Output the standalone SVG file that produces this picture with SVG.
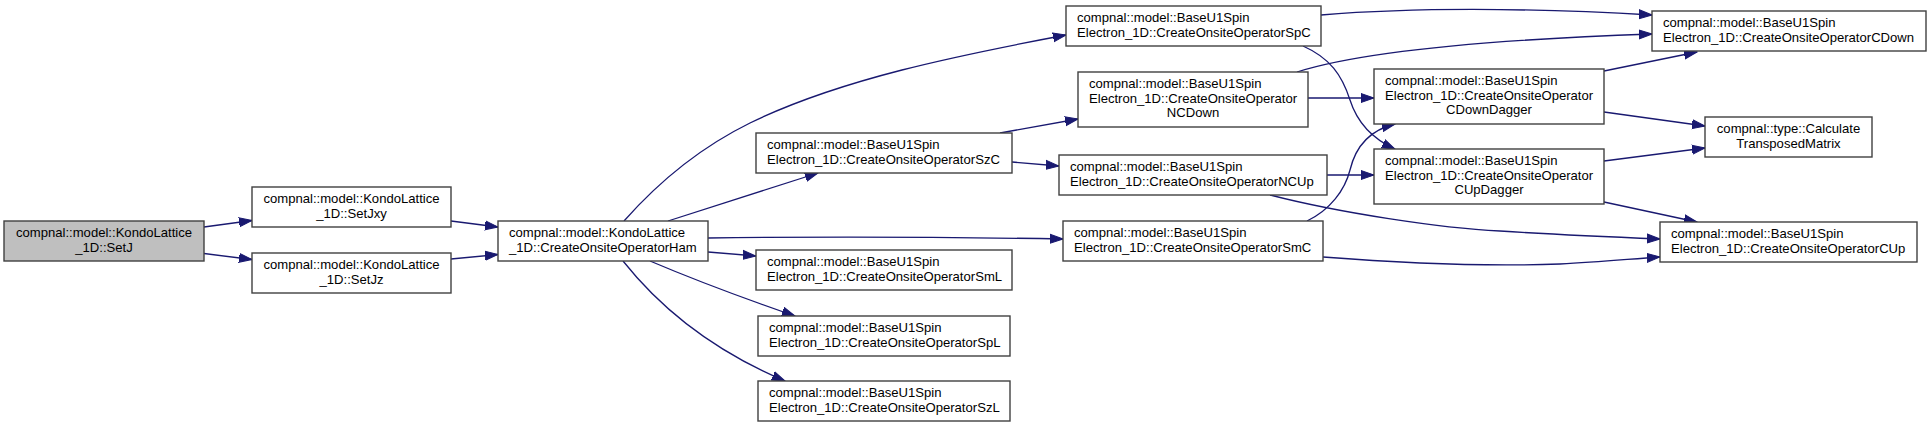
<svg xmlns="http://www.w3.org/2000/svg" width="1931" height="427" viewBox="0 0 1931 427">
<style>
.n rect{fill:#fff;stroke:#404040;stroke-width:1.4}
.n.root rect{fill:#bfbfbf}
.n text{font-family:"Liberation Sans",Arial,sans-serif;font-size:13.1px;fill:#000}
.c{text-anchor:middle}
#edges path{fill:none;stroke:#191970;stroke-width:1.3;marker-end:url(#ah)}
</style>
<defs>
<marker id="ah" markerWidth="14" markerHeight="11" refX="13" refY="5" orient="auto" markerUnits="userSpaceOnUse" viewBox="0 0 14 10">
<path d="M0,0.5 L13,5 L0,9.5 z" fill="#191970" stroke="#191970" stroke-width="1"/>
</marker>
</defs>
<rect width="1931" height="427" fill="#fff"/>
<g id="edges">
<path d="M204,227 L252,220.5"/>
<path d="M204,253.5 L252,259.5"/>
<path d="M451,221 L498,227"/>
<path d="M451,259 L498,254.5"/>
<path d="M624,221 C655,186 695,150 750,123 C840,79 960,55 1066,35"/>
<path d="M668,221 L818,173"/>
<path d="M708,238 C850,236 950,237 1063,239"/>
<path d="M708,252 L756,256"/>
<path d="M650,261 C690,278 740,297 795,316"/>
<path d="M623,261 C650,295 700,345 785,381"/>
<path d="M1000,133 L1078,119"/>
<path d="M1012,162 L1059,166"/>
<path d="M1321,15 C1420,7 1530,8 1652,15"/>
<path d="M1303,46 C1330,58 1342,75 1350,100 C1358,125 1375,140 1395,149"/>
<path d="M1297,72 C1360,52 1480,40 1652,34"/>
<path d="M1308,98 L1374,98"/>
<path d="M1327,175 L1374,175"/>
<path d="M1270,195 C1340,213 1440,228 1500,231 C1560,235 1610,237 1660,239"/>
<path d="M1307,221 C1330,210 1345,190 1350,170 C1356,145 1370,130 1395,124"/>
<path d="M1323,257 C1400,263 1480,267 1560,264 C1600,262 1630,259 1660,257"/>
<path d="M1604,71 L1697,52"/>
<path d="M1604,112 L1705,126"/>
<path d="M1604,161 L1705,148"/>
<path d="M1604,202 L1697,222"/>
</g>
<g id="SetJ" class="n root"><rect x="4" y="221" width="200" height="40"/><text class="c" x="104" y="237">compnal::model::KondoLattice</text><text class="c" x="104" y="251.7">_1D::SetJ</text></g>
<g id="SetJxy" class="n"><rect x="252" y="187" width="199" height="40"/><text class="c" x="351.5" y="203">compnal::model::KondoLattice</text><text class="c" x="351.5" y="217.7">_1D::SetJxy</text></g>
<g id="SetJz" class="n"><rect x="252" y="253" width="199" height="40"/><text class="c" x="351.5" y="269">compnal::model::KondoLattice</text><text class="c" x="351.5" y="283.7">_1D::SetJz</text></g>
<g id="Ham" class="n"><rect x="498" y="221" width="210" height="40"/><text x="509" y="237">compnal::model::KondoLattice</text><text x="509" y="251.7">_1D::CreateOnsiteOperatorHam</text></g>
<g id="SzC" class="n"><rect x="756" y="133" width="256" height="40"/><text x="767" y="149">compnal::model::BaseU1Spin</text><text x="767" y="163.7">Electron_1D::CreateOnsiteOperatorSzC</text></g>
<g id="SmL" class="n"><rect x="756" y="250" width="256" height="40"/><text x="767" y="266">compnal::model::BaseU1Spin</text><text x="767" y="280.7">Electron_1D::CreateOnsiteOperatorSmL</text></g>
<g id="SpL" class="n"><rect x="758" y="316" width="252" height="40"/><text x="769" y="332">compnal::model::BaseU1Spin</text><text x="769" y="346.7">Electron_1D::CreateOnsiteOperatorSpL</text></g>
<g id="SzL" class="n"><rect x="758" y="381" width="252" height="40"/><text x="769" y="397">compnal::model::BaseU1Spin</text><text x="769" y="411.7">Electron_1D::CreateOnsiteOperatorSzL</text></g>
<g id="SpC" class="n"><rect x="1066" y="6" width="255" height="40"/><text x="1077" y="22">compnal::model::BaseU1Spin</text><text x="1077" y="36.7">Electron_1D::CreateOnsiteOperatorSpC</text></g>
<g id="NCDown" class="n"><rect x="1078" y="72" width="230" height="55"/><text x="1089" y="88">compnal::model::BaseU1Spin</text><text x="1089" y="102.7">Electron_1D::CreateOnsiteOperator</text><text class="c" x="1193" y="117.3">NCDown</text></g>
<g id="NCUp" class="n"><rect x="1059" y="155" width="268" height="40"/><text x="1070" y="171">compnal::model::BaseU1Spin</text><text x="1070" y="185.7">Electron_1D::CreateOnsiteOperatorNCUp</text></g>
<g id="SmC" class="n"><rect x="1063" y="221" width="260" height="40"/><text x="1074" y="237">compnal::model::BaseU1Spin</text><text x="1074" y="251.7">Electron_1D::CreateOnsiteOperatorSmC</text></g>
<g id="CDownDagger" class="n"><rect x="1374" y="69" width="230" height="55"/><text x="1385" y="85">compnal::model::BaseU1Spin</text><text x="1385" y="99.7">Electron_1D::CreateOnsiteOperator</text><text class="c" x="1489" y="114.3">CDownDagger</text></g>
<g id="CUpDagger" class="n"><rect x="1374" y="149" width="230" height="55"/><text x="1385" y="165">compnal::model::BaseU1Spin</text><text x="1385" y="179.7">Electron_1D::CreateOnsiteOperator</text><text class="c" x="1489" y="194.3">CUpDagger</text></g>
<g id="CDown" class="n"><rect x="1652" y="11" width="274" height="40"/><text x="1663" y="27">compnal::model::BaseU1Spin</text><text x="1663" y="41.7">Electron_1D::CreateOnsiteOperatorCDown</text></g>
<g id="CalcT" class="n"><rect x="1705" y="117" width="167" height="40"/><text class="c" x="1788.5" y="133">compnal::type::Calculate</text><text class="c" x="1788.5" y="147.7">TransposedMatrix</text></g>
<g id="CUp" class="n"><rect x="1660" y="222" width="257" height="40"/><text x="1671" y="238">compnal::model::BaseU1Spin</text><text x="1671" y="252.7">Electron_1D::CreateOnsiteOperatorCUp</text></g>
</svg>
